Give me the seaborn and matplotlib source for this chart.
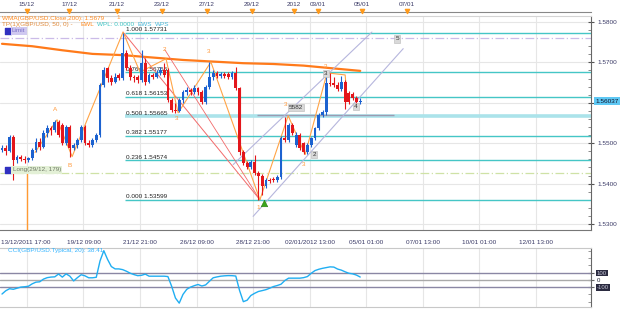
import numpy as np
import matplotlib.pyplot as plt
import seaborn as sns
from matplotlib.ticker import MultipleLocator

# ==========================================
# DATA (4H candles, GBP/USD)
# ==========================================

opens = [1.5484, 1.5489, 1.5480, 1.5516, 1.5459, 1.5467, 1.5462, 1.5459, 1.5464, 1.5484,
         1.5504, 1.5491, 1.5526, 1.5538, 1.5533, 1.5553, 1.5546, 1.5501, 1.5541, 1.5489,
         1.5496, 1.5509, 1.5541, 1.5501, 1.5496, 1.5509, 1.5521, 1.5644, 1.5686, 1.5662,
         1.5652, 1.5669, 1.5662, 1.5723, 1.5686, 1.5664, 1.5664, 1.5657, 1.5699, 1.5652,
         1.5669, 1.5664, 1.5674, 1.5681, 1.5681, 1.5607, 1.5583, 1.5580, 1.5607, 1.5627,
         1.5632, 1.5627, 1.5637, 1.5627, 1.5602, 1.5640, 1.5664, 1.5674, 1.5666, 1.5671,
         1.5671, 1.5664, 1.5674, 1.5637, 1.5479, 1.5452, 1.5442, 1.5454, 1.5427, 1.5420,
         1.5393, 1.5410, 1.5412, 1.5410, 1.5417, 1.5514, 1.5509, 1.5546, 1.5496, 1.5521,
         1.5501, 1.5479, 1.5496, 1.5512, 1.5538, 1.5570, 1.5578, 1.5649, 1.5649, 1.5644,
         1.5635, 1.5652, 1.5625, 1.5622, 1.5612, 1.5602]
closes = [1.5489, 1.5480, 1.5516, 1.5459, 1.5467, 1.5462, 1.5459, 1.5464, 1.5484, 1.5504,
          1.5491, 1.5526, 1.5538, 1.5533, 1.5553, 1.5521, 1.5501, 1.5541, 1.5489, 1.5496,
          1.5509, 1.5541, 1.5501, 1.5496, 1.5509, 1.5521, 1.5644, 1.5681, 1.5662, 1.5652,
          1.5664, 1.5662, 1.5723, 1.5686, 1.5664, 1.5662, 1.5657, 1.5699, 1.5652, 1.5669,
          1.5664, 1.5674, 1.5681, 1.5669, 1.5607, 1.5583, 1.5580, 1.5607, 1.5627, 1.5632,
          1.5627, 1.5637, 1.5627, 1.5602, 1.5640, 1.5664, 1.5674, 1.5666, 1.5671, 1.5666,
          1.5664, 1.5674, 1.5637, 1.5479, 1.5452, 1.5442, 1.5454, 1.5427, 1.5420, 1.5393,
          1.5410, 1.5407, 1.5410, 1.5417, 1.5514, 1.5509, 1.5546, 1.5526, 1.5521, 1.5489,
          1.5479, 1.5496, 1.5512, 1.5538, 1.5570, 1.5578, 1.5649, 1.5647, 1.5644, 1.5635,
          1.5652, 1.5602, 1.5602, 1.5612, 1.5602, 1.5604]
highs = [1.5496, 1.5496, 1.5521, 1.5521, 1.5472, 1.5472, 1.5469, 1.5467, 1.5489, 1.5512,
         1.5514, 1.5533, 1.5546, 1.5543, 1.5558, 1.5558, 1.5551, 1.5546, 1.5546, 1.5501,
         1.5514, 1.5546, 1.5546, 1.5509, 1.5514, 1.5526, 1.5649, 1.5689, 1.5689, 1.5669,
         1.5674, 1.5674, 1.5773, 1.5731, 1.5694, 1.5669, 1.5669, 1.5731, 1.5711, 1.5674,
         1.5674, 1.5681, 1.5689, 1.5699, 1.5686, 1.5612, 1.5600, 1.5612, 1.5632, 1.5640,
         1.5637, 1.5644, 1.5640, 1.5632, 1.5644, 1.5701, 1.5681, 1.5679, 1.5676, 1.5676,
         1.5676, 1.5679, 1.5689, 1.5640, 1.5484, 1.5457, 1.5459, 1.5472, 1.5430, 1.5425,
         1.5415, 1.5415, 1.5417, 1.5422, 1.5519, 1.5565, 1.5551, 1.5551, 1.5528, 1.5526,
         1.5504, 1.5501, 1.5516, 1.5541, 1.5575, 1.5583, 1.5674, 1.5674, 1.5664, 1.5652,
         1.5666, 1.5657, 1.5630, 1.5627, 1.5617, 1.5612]
lows = [1.5479, 1.5472, 1.5477, 1.5410, 1.5452, 1.5457, 1.5452, 1.5454, 1.5459, 1.5479,
        1.5484, 1.5489, 1.5516, 1.5521, 1.5528, 1.5516, 1.5496, 1.5496, 1.5467, 1.5484,
        1.5489, 1.5504, 1.5496, 1.5491, 1.5491, 1.5504, 1.5516, 1.5640, 1.5652, 1.5644,
        1.5649, 1.5657, 1.5657, 1.5681, 1.5657, 1.5652, 1.5649, 1.5652, 1.5644, 1.5649,
        1.5659, 1.5662, 1.5669, 1.5664, 1.5602, 1.5578, 1.5575, 1.5578, 1.5600, 1.5620,
        1.5620, 1.5622, 1.5620, 1.5597, 1.5597, 1.5635, 1.5657, 1.5662, 1.5662, 1.5662,
        1.5659, 1.5659, 1.5632, 1.5472, 1.5447, 1.5437, 1.5437, 1.5422, 1.5360, 1.5373,
        1.5388, 1.5402, 1.5405, 1.5405, 1.5412, 1.5504, 1.5504, 1.5521, 1.5491, 1.5484,
        1.5474, 1.5474, 1.5491, 1.5509, 1.5533, 1.5565, 1.5570, 1.5642, 1.5640, 1.5630,
        1.5630, 1.5585, 1.5597, 1.5607, 1.5597, 1.5597]

cci = [-195, -150, -122, -130, -115, -100, -95, -88, -55, -32,
       -27, 10, 30, 38, 41, 80, 37, 82, 50, -15,
       30, 70, 55, 28, 28, 35, 260, 400, 280, 182,
       150, 150, 140, 118, 91, 72, 57, 62, 78, 50,
       50, 50, 50, 50, 45, -90, -250, -320, -200, -130,
       -100, -80, -64, -85, -70, -20, 28, 40, 50, 55,
       58, 57, 52, -146, -300, -280, -215, -185, -160, -148,
       -135, -115, -92, -78, -60, -10, 23, 23, 23, 23,
       30, 45, 90, 127, 145, 158, 168, 178, 175, 148,
       133, 110, 90, 82, 65, 38.41]

wma_bar = [0, 8, 16, 24, 32, 40, 48, 56, 64, 72, 80, 88, 95]
wma_val = [1.5746, 1.5740, 1.5730, 1.5721, 1.5718, 1.5712, 1.5706, 1.5702, 1.5698,
           1.5696, 1.5692, 1.5685, 1.5679]

fib_ratio = ["0.000", "0.236", "0.382", "0.500", "0.618", "0.764", "1.000"]
fib_price = [1.53599, 1.54574, 1.55177, 1.55665, 1.56153, 1.56756, 1.57731]

zz_bar = [8.75, 14.6, 18.6, 32.1, 36.6, 43.5, 46.7, 55.4, 68.4, 75.9, 80.4, 86.2, 91.0, 91.5]
zz_price = [1.5477, 1.5558, 1.5467, 1.5775, 1.5676, 1.5709, 1.5575, 1.5701, 1.5360,
            1.5568, 1.5472, 1.5674, 1.5669, 1.5612]

bottom_labels = ["13/12/2011 17:00", "19/12 09:00", "21/12 21:00", "26/12 09:00",
                 "28/12 21:00", "02/01/2012 13:00", "05/01 01:00", "07/01 13:00",
                 "10/01 01:00", "12/01 13:00"]
top_labels = ["15/12", "17/12", "21/12", "23/12", "27/12", "29/12", "2012", "03/01", "05/01", "07/01"]
top_bar = [6.6, 17.8, 30.5, 42.4, 54.4, 66.3, 77.5, 83.8, 95.5, 107.4]

price_ticks = [1.53, 1.54, 1.55, 1.56, 1.57, 1.58]
price_labels = ["1.5300", "1.5400", "1.5500", "", "1.5700", "1.5800"]
last_price = 1.56037

# ==========================================
# STYLE
# ==========================================

sns.set_style("white")
plt.rcParams['font.family'] = ['Liberation Sans', 'DejaVu Sans']
FS = 4.6
plt.rcParams['font.size'] = FS

W, H = 625, 309
XL = (-0.53, 156.2)
GRID = "#e6e6e6"
TXT = "#3a3a66"
bars = np.arange(len(closes))
major_x = 6.6 + 15 * np.arange(len(bottom_labels))

fig = plt.figure(figsize=(W / 100, H / 100), dpi=100)
ax = fig.add_axes([0, 79 / H, 591 / W, 214 / H])
ax_top = fig.add_axes([0, 297 / H, 591 / W, 12 / H])
ax_cci = fig.add_axes([0, 2 / H, 591 / W, 59 / H])

# ==========================================
# MAIN PRICE PANEL
# ==========================================

ax.set_xlim(*XL)
ax.set_ylim(1.52852, 1.58148)
ax.set_xticks(major_x, labels=[""] + bottom_labels[1:])
ax.set_xticks(np.arange(major_x[0] - 5, XL[1], 2.5), minor=True)
ax.set_yticks(price_ticks, labels=price_labels)
ax.yaxis.set_minor_locator(MultipleLocator(0.002))
ax.yaxis.tick_right()
ax.grid(True, color=GRID, lw=0.8, which="major")
ax.tick_params(axis="x", which="major", direction="out", length=4, labelsize=FS,
               labelcolor=TXT, color="#666", pad=3)
ax.tick_params(axis="x", which="minor", direction="in", length=2, color="#888")
ax.tick_params(axis="y", which="major", direction="inout", length=5, labelsize=FS,
               labelcolor=TXT, color="#555", pad=2)
ax.tick_params(axis="y", which="minor", direction="in", length=2, color="#777")
ax.spines["left"].set_visible(False)
ax.spines["top"].set_color("#d4d4d4")
ax.spines["right"].set_color("#666")
ax.spines["bottom"].set_color("#777")

# first date label starts at the left edge, level with the others
renderer = fig.canvas.get_renderer()
ref_lbl = ax.get_xticklabels()[1].get_window_extent(renderer)
ax.text(1 / W, (ref_lbl.y0 + ref_lbl.y1) / 2 / H, bottom_labels[0], transform=fig.transFigure,
        fontsize=FS, color=TXT, ha="left", va="center")

# extra horizontal lines
ax.axhline(1.5760, color="#cbbbe8", lw=0.9, ls=(0, (7, 2, 1, 2)), zorder=1)
ax.axhline(1.5427, color="#cfe2a6", lw=0.9, ls=(0, (7, 2, 1, 2)), zorder=1)

# fibonacci retracement
for r, p in zip(fib_ratio, fib_price):
    if r == "0.500":
        ax.hlines(p, 32.6, XL[1], color="#abe3ea", lw=2.6, zorder=2)
    else:
        ax.hlines(p, 32.6, XL[1], color="#45c6c6", lw=1.0, zorder=2)
    ax.text(32.8, p + 0.00015, f"{r} {p:.5f}", fontsize=FS, color="#222",
            ha="left", va="bottom", zorder=2)
ax.hlines(1.5570, 67.6, 104.0, color="#9b9bb2", lw=1.0, zorder=3)

# WMA 200
sns.lineplot(x=wma_bar, y=wma_val, ax=ax, color="#ff7a1a", lw=1.6, zorder=3)

# red fan lines and lavender channel
ax.plot([32.1, 68.4], [1.5775, 1.5360], color="#f26a6a", lw=0.7, zorder=3)
ax.plot([43.2, 68.4], [1.5731, 1.5360], color="#f26a6a", lw=0.6, zorder=3)
ax.plot([61.3, 98.1], [1.5447, 1.5775], color="#b6b6dd", lw=0.8, zorder=3)
ax.plot([66.6, 106.4], [1.5319, 1.5734], color="#b6b6dd", lw=0.8, zorder=3)

# orange wave zigzag
sns.lineplot(x=zz_bar, y=zz_price, ax=ax, color="#ffa446", lw=0.8, sort=False,
             estimator=None, zorder=4)

# candles
o = np.array(opens)
c = np.array(closes)
cols = np.where(c >= o, "#1c62d0", "#e3161b")
body_lo = np.minimum(o, c)
body_h = np.maximum(np.abs(c - o), 0.00022)
ax.vlines(bars, lows, highs, colors=cols, lw=0.8, zorder=5)
ax.bar(bars, body_h, bottom=body_lo, width=0.75, color=cols, lw=0, zorder=6)

# long position marker line
ax.vlines(6.6, 1.52852, 1.5434, color="#ff9a33", lw=1.0, zorder=4)

# wave labels
wave_txt = [("A", 14.1, 1.5583), ("B", 18.0, 1.5444), ("1", 30.8, 1.5810), ("2", 43.0, 1.5731),
            ("3", 46.2, 1.5560), ("3", 54.9, 1.5726), ("1", 67.9, 1.5341), ("3", 75.3, 1.5595),
            ("3", 80.1, 1.5447), ("3", 85.9, 1.5691)]
for t, xb, yp in wave_txt:
    ax.text(xb, yp, t, color="#ff9a3c", fontsize=FS, ha="center", va="center", zorder=7)

box_txt = [("5582", 78.0, 1.5588), ("2", 82.8, 1.5472), ("3", 85.9, 1.5672),
           ("4", 93.9, 1.5590), ("5", 104.8, 1.5758)]
for t, xb, yp in box_txt:
    ax.text(xb, yp, t, color="#333", fontsize=FS, ha="center", va="center", zorder=8,
            bbox=dict(facecolor="#d9d9d9", edgecolor="#b8b8b8", lw=0.4, pad=0.8))

# green buy arrow
ax.scatter([69.5], [1.5351], marker="^", s=22, color="#3aa61a", edgecolor="#2a7a10",
           lw=0.4, zorder=8)

# Limit and Long tags
ax.scatter([1.6], [1.5778], marker="s", s=14, color="#3030c0", zorder=8)
ax.text(2.6, 1.5778, "Limit", fontsize=FS, color="#7a70c8", va="center", zorder=8,
        bbox=dict(facecolor="#cfc8f0", edgecolor="none", pad=0.9))
ax.scatter([1.6], [1.5434], marker="s", s=14, color="#3030c0", zorder=8)
ax.text(2.8, 1.5434, "Long(29/12, 179)", fontsize=FS, color="#6f7a66", va="center",
        zorder=8, bbox=dict(facecolor="#e3f0d6", edgecolor="none", pad=0.9))

# current price box
ax.text(1.008, last_price, f"{last_price:.5f}", transform=ax.get_yaxis_transform(),
        fontsize=FS, color="#101028", va="center", ha="left",
        bbox=dict(facecolor="#5ec8f4", edgecolor="none", pad=1.0))

# indicator legends, second line laid out piece by piece
fig.text(2 / W, 1 - 18.5 / H, "WMA(GBP/USD.Close,200): 1.5679", color="#ff8a1e",
         fontsize=FS, va="center")
legend2 = [("TP(1)(GBP/USD, 50, 0) -", "#e08a3a", 8), ("EWL", "#ff8a1e", 3),
           ("WPL: 0.0000", "#3cc4c4", 3), ("EWS", "#48b8d8", 3), ("WPS", "#48b8d8", 0)]
xp = 2
for t, col, gap in legend2:
    txt = fig.text(xp / W, 1 - 24.5 / H, t, color=col, fontsize=FS, va="center")
    xp = txt.get_window_extent(renderer).x1 + gap

# ==========================================
# TOP DATE STRIP
# ==========================================

ax_top.set_xlim(*XL)
ax_top.set_ylim(0, 1)
ax_top.set_facecolor("none")
for s in ["left", "right", "top"]:
    ax_top.spines[s].set_visible(False)
ax_top.spines["bottom"].set_color("#888")
ax_top.set_yticks([])
ax_top.set_xticks(top_bar + [120.7, 144.8], labels=[])
ax_top.set_xticks(np.arange(0.6, XL[1], 1.5), minor=True)
ax_top.tick_params(axis="x", which="major", direction="in", length=4, color="#777")
ax_top.tick_params(axis="x", which="minor", direction="in", length=2, color="#999")
for lab, xb in zip(top_labels, top_bar):
    ax_top.text(xb, 0.62, lab, ha="center", va="center", fontsize=FS, color=TXT)
ax_top.scatter(top_bar, [0.08] * len(top_bar), marker="v", s=9, color="#ff9a1a",
               clip_on=False, zorder=5)

# ==========================================
# CCI PANEL
# ==========================================

ax_cci.set_xlim(*XL)
ax_cci.set_ylim(-373, 437)
ax_cci.set_xticks(major_x, labels=[])
ax_cci.grid(True, axis="x", color=GRID, lw=0.8)
ax_cci.axhline(100, color="#8a87a4", lw=1.0)
ax_cci.axhline(-100, color="#8a87a4", lw=1.0)
ax_cci.axhline(0, color="#a9a9a9", lw=1.0)
sns.lineplot(x=bars, y=cci, ax=ax_cci, color="#20aef2", lw=1.0, zorder=4)
ax_cci.yaxis.tick_right()
ax_cci.set_yticks([100, 0, -100], labels=["100", "0", "-100"])
ax_cci.yaxis.set_minor_locator(MultipleLocator(100))
ax_cci.tick_params(axis="x", length=0)
ax_cci.tick_params(axis="y", which="major", direction="inout", length=4, labelsize=4.3,
                   labelcolor="#202030", color="#666", pad=2)
ax_cci.tick_params(axis="y", which="minor", direction="in", length=2, color="#888")
for lbl in ax_cci.get_yticklabels():
    if lbl.get_text() != "0":
        lbl.set_bbox(dict(facecolor="#2b2b40", edgecolor="none", pad=0.6))
        lbl.set_color("#c8c8d8")
ax_cci.spines["left"].set_visible(False)
ax_cci.spines["top"].set_color("#c8c8c8")
ax_cci.spines["bottom"].set_color("#c8c8c8")
ax_cci.spines["right"].set_color("#666")
ax_cci.text(1.5, 400, "CCI(GBP/USD.Typical, 20): 38.41", color="#33b4ff", fontsize=FS,
            va="center", ha="left")

fig.savefig("out.png", dpi=100)
